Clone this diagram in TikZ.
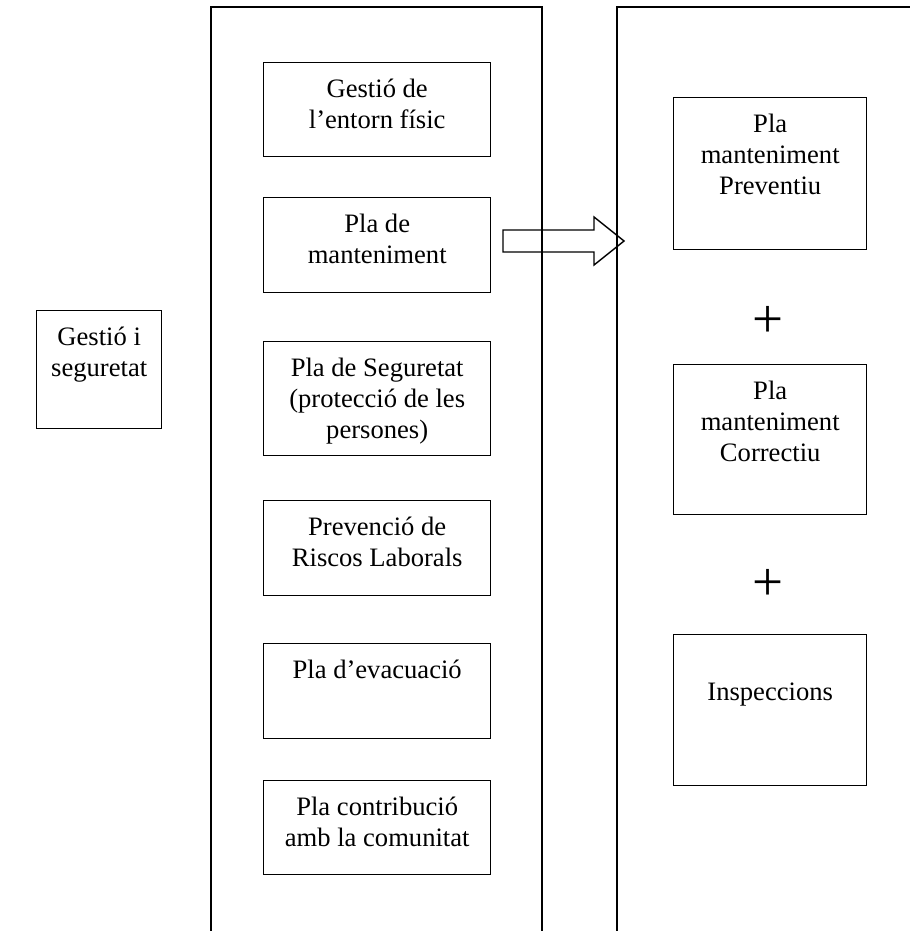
\documentclass[tikz,border=0pt]{standalone}
\usepackage{fontspec}
\setmainfont{Liberation Serif}
\usepackage{tikz}
\usetikzlibrary{calc}

\newcommand{\boxtxt}[3]{\parbox[c][#2pt][t]{#1pt}{\centering\rule{0pt}{35pt}#3}}

\tikzset{
	box/.style={draw, line width=1.4pt, inner sep=0pt, anchor=north west},
	col/.style={line width=1.8pt},
	plus/.style={inner sep=0pt, font=\fontsize{55pt}{55pt}\selectfont},
	blockarr/.style={line width=1.4pt, line join=miter},
	every node/.style={font=\fontsize{26.6pt}{31pt}\selectfont}
}

\begin{document}
\begin{tikzpicture}[x=1pt,y=-1pt]
		\useasboundingbox (0,0) rectangle (910,931);
		\draw[col] (211,931) -- (211,7) -- (542,7) -- (542,931);
		\draw[col] (617,931) -- (617,7) -- (910,7);
		\node[box] (gs) at (36,310) {\boxtxt{125}{118}{Gestió i\\seguretat}};
		\node[box] (gest) at (263,62) {\boxtxt{227}{94}{Gestió de\\l’entorn físic}};
		\node[box] (mant) at (263,197) {\boxtxt{227}{95}{Pla de\\manteniment}};
		\node[box] (seg) at (263,341) {\boxtxt{227}{114}{Pla de Seguretat\\(protecció de les\\persones)}};
		\node[box] (prev) at (263,500) {\boxtxt{227}{95}{Prevenció de\\Riscos Laborals}};
		\node[box] (evac) at (263,643) {\boxtxt{227}{95}{Pla d’evacuació}};
		\node[box] (comu) at (263,780) {\boxtxt{227}{94}{Pla contribució\\amb la comunitat}};
		\node[box] (prevt) at (673,97) {\boxtxt{193}{152}{Pla\\manteniment\\Preventiu}};
		\node[plus] (p1) at (768,322) {+};
		\node[box] (corr) at (673,364) {\boxtxt{193}{150}{Pla\\manteniment\\Correctiu}};
		\node[plus] (p2) at (768,585) {+};
		\node[box] (insp) at (673,634) {\boxtxt{193}{151}{\mbox{}\\Inspeccions}};
		\coordinate (tail) at (503,241);
		\coordinate (tip) at (624,241);
		\draw[blockarr] ($(tail)+(0,-11)$) -- ++(91,0) -- ++(0,-13) -- (tip) -- ++(-30,24) -- ++(0,-13) -- ++(-91,0) -- cycle;
	\end{tikzpicture}
\end{document}
